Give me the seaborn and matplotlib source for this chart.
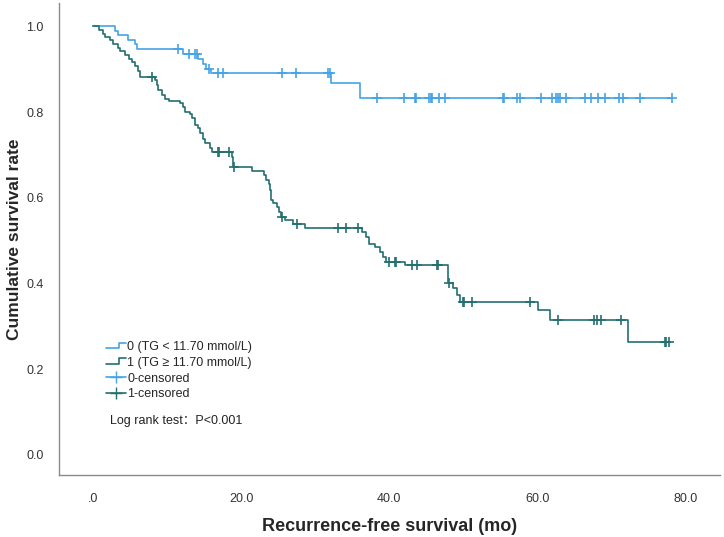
import numpy as np
import pandas as pd
import seaborn as sns
import matplotlib
matplotlib.use("Agg")
import matplotlib.pyplot as plt
from matplotlib.lines import Line2D
from matplotlib.legend_handler import HandlerBase

# group 0 (TG < 11.70): event times and survival after each step
t0_evt = [0, 3.0, 3.4, 4.7, 5.6, 5.9, 12.1, 14.2, 14.9, 15.3, 15.9, 32.1, 36.1]
s0_evt = [1.0, 0.989, 0.979, 0.969, 0.958, 0.946, 0.936, 0.924, 0.913, 0.901,
          0.890, 0.867, 0.832]
t0_cens = [11.4, 12.9, 13.8, 14.0, 15.7, 16.9, 17.5, 25.5, 27.4, 31.7, 32.0,
           38.3, 42.0, 43.5, 43.6, 45.4, 45.6, 45.8, 46.7, 47.5, 55.4, 55.5,
           57.2, 57.7, 60.5, 62.0, 62.5, 62.8, 63.0, 63.9, 66.4, 67.2, 68.2,
           69.1, 71.0, 71.6, 73.9, 78.1]

# group 1 (TG >= 11.70)
t1_evt = [0, 0.8, 1.4, 1.6, 2.3, 2.7, 3.4, 3.6, 4.3, 4.8, 5.2, 5.7, 6.0, 6.3,
          8.4, 8.6, 8.8, 9.3, 9.7, 10.2, 11.7, 12.2, 12.4, 13.1, 13.3, 13.8,
          14.2, 14.4, 14.9, 15.1, 15.8, 16.0, 18.7, 18.9, 21.4, 23.1, 23.4,
          23.7, 23.9, 24.0, 24.3, 24.8, 25.1, 25.4, 25.9, 27.0, 28.6, 36.3,
          36.9, 37.2, 38.1, 38.7, 39.2, 39.6, 42.1, 47.9, 48.6, 49.2, 49.5,
          60.1, 61.7, 72.2]
s1_evt = [1.0, 0.991, 0.983, 0.975, 0.967, 0.958, 0.950, 0.942, 0.933, 0.924,
          0.916, 0.907, 0.895, 0.882, 0.874, 0.862, 0.851, 0.839, 0.831, 0.826,
          0.821, 0.812, 0.800, 0.796, 0.785, 0.769, 0.762, 0.750, 0.738, 0.727,
          0.715, 0.707, 0.695, 0.672, 0.662, 0.653, 0.641, 0.633, 0.618, 0.594,
          0.587, 0.579, 0.567, 0.556, 0.548, 0.538, 0.530, 0.521, 0.509, 0.492,
          0.486, 0.474, 0.462, 0.450, 0.442, 0.401, 0.389, 0.373, 0.356, 0.337,
          0.315, 0.263]
t1_cens = [7.9, 16.9, 17.0, 18.4, 19.0, 25.5, 27.5, 33.1, 34.2, 35.8, 40.0,
           40.8, 40.9, 43.0, 43.8, 46.4, 46.6, 48.0, 50.0, 50.1, 51.2, 59.0,
           62.8, 67.6, 68.0, 68.6, 71.3, 77.2, 77.4, 77.8]

labels = ["0 (TG < 11.70 mmol/L)", "1 (TG \u2265 11.70 mmol/L)"]
cens_labels = ["0-censored", "1-censored"]
colors = ["#45a3e6", "#22706f"]


def km_frames(t_evt, s_evt, t_cens, name):
    """Build the step curve (extended to the last censor) and censor points."""
    t_end = max(t_evt[-1], max(t_cens))
    curve = pd.DataFrame({"time": list(t_evt) + [t_end],
                          "surv": list(s_evt) + [s_evt[-1]]})
    curve["group"] = name
    idx = np.searchsorted(t_evt, t_cens, side="right") - 1
    cens = pd.DataFrame({"time": t_cens, "surv": np.array(s_evt)[idx]})
    cens["group"] = name
    return curve, cens


class StepHandler(HandlerBase):
    def create_artists(self, legend, orig, xd, yd, w, h, fontsize, trans):
        xs = [xd, xd + 0.65 * w, xd + 0.65 * w, xd + w]
        ys = [yd + 0.2 * h, yd + 0.2 * h, yd + 0.85 * h, yd + 0.85 * h]
        ln = Line2D(xs, ys, color=orig.get_color(), lw=1.2)
        ln.set_transform(trans)
        return [ln]


sns.set_theme(style="white")
plt.rcParams["font.family"] = ["Liberation Sans", "Noto Sans CJK SC", "DejaVu Sans"]

fig = plt.figure(figsize=(7.24, 5.37), dpi=100)
ax = fig.add_axes([0.0815, 0.1155, 0.9125, 0.8785])

c0, e0 = km_frames(t0_evt, s0_evt, t0_cens, labels[0])
c1, e1 = km_frames(t1_evt, s1_evt, t1_cens, labels[1])

for curve, cens, col in [(c0, e0, colors[0]), (c1, e1, colors[1])]:
    sns.lineplot(data=curve, x="time", y="surv", ax=ax, color=col,
                 estimator=None, sort=False, drawstyle="steps-post", lw=1.2,
                 legend=False)
    sns.scatterplot(data=cens, x="time", y="surv", ax=ax, color=col,
                    marker="+", s=55, linewidth=1.2, legend=False, zorder=3)

ax.set_xlim(-4.6, 84.6)
ax.set_ylim(-0.047, 1.054)
ax.set_xticks([0, 20, 40, 60, 80])
ax.set_xticklabels([".0", "20.0", "40.0", "60.0", "80.0"])
ax.set_yticks([0, 0.2, 0.4, 0.6, 0.8, 1.0])
ax.set_yticklabels(["0.0", "0.2", "0.4", "0.6", "0.8", "1.0"])
ax.tick_params(length=0, labelsize=9, colors="#333333")
ax.tick_params(axis="x", pad=13)
ax.tick_params(axis="y", pad=11)
for side in ["top", "right"]:
    ax.spines[side].set_visible(False)
for side in ["left", "bottom"]:
    ax.spines[side].set_color("#8a8a8a")
    ax.spines[side].set_linewidth(1.0)

ax.set_xlabel("Recurrence-free survival (mo)", fontsize=13, fontweight="bold",
              labelpad=9)
ax.set_ylabel("Cumulative survival rate", fontsize=12.5, fontweight="bold",
              labelpad=3)

h0 = Line2D([], [], color=colors[0])
h1 = Line2D([], [], color=colors[1])
h2 = Line2D([], [], color=colors[0], marker="+", markersize=8, lw=1.2)
h3 = Line2D([], [], color=colors[1], marker="+", markersize=8, lw=1.2)
ax.legend([h0, h1, h2, h3], labels + cens_labels,
          handler_map={h0: StepHandler(), h1: StepHandler()},
          loc="upper left", bbox_to_anchor=(0.062, 0.297), frameon=False,
          fontsize=9, handlelength=1.6, handletextpad=0.1, labelspacing=0.3,
          borderpad=0)

ax.text(0.077, 0.114, "Log rank test\uff1aP<0.001", transform=ax.transAxes,
        fontsize=9, color="#222222", va="center")

fig.savefig("out.png", dpi=100)
